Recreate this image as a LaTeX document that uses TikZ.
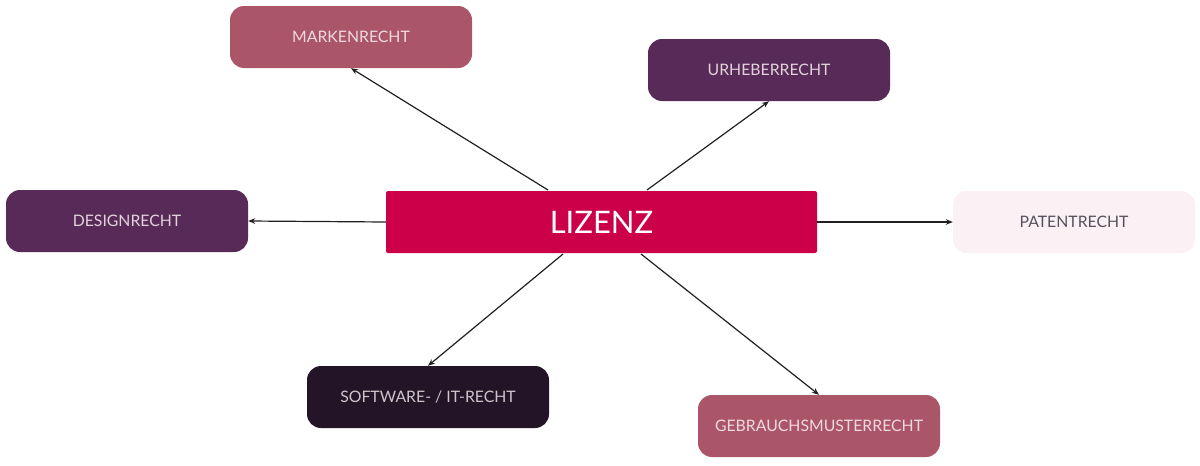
\documentclass[tikz,border=0pt]{standalone}
\usepackage{fontspec}
\setmainfont{Lato}
\usetikzlibrary{arrows.meta}
\definecolor{rose}{HTML}{AB5668}
\definecolor{plum}{HTML}{582A58}
\definecolor{lizred}{HTML}{CC0048}
\definecolor{palepink}{HTML}{FBF0F3}
\definecolor{darkplum}{HTML}{231527}
\definecolor{arrowc}{HTML}{231F20}
\tikzset{
  rbox/.style={rounded corners=14pt, minimum width=242pt, minimum height=62pt, inner sep=0pt, font=\fontsize{15.8pt}{18pt}\selectfont},
  conn/.style={draw=arrowc, line width=1.2pt, -{Stealth[length=7pt,width=5.5pt]}}
}
\begin{document}
\begin{tikzpicture}[x=1pt,y=-1pt]
\useasboundingbox[fill=white] (0,0) rectangle (1200,466);
\node[rbox, fill=rose, text=palepink!85!rose] (mark) at (351,37) {MARKENRECHT};
\node[rbox, fill=plum, text=palepink!85!plum] (urh) at (769,70) {URHEBERRECHT};
\node[rbox, fill=plum, text=palepink!85!plum] (des) at (127,221) {DESIGNRECHT};
\node[rbox, fill=palepink, text=darkplum!75] (pat) at (1074,222) {PATENTRECHT};
\node[rbox, fill=darkplum, text=palepink!80!darkplum] (soft) at (428,397) {SOFTWARE- / IT-RECHT};
\node[rbox, fill=rose, text=palepink!85!rose] (geb) at (819,426) {GEBRAUCHSMUSTERRECHT};
\node[fill=lizred, rounded corners=2pt, minimum width=431pt, minimum height=62pt, inner sep=0pt, text=white, font=\fontsize{31pt}{35pt}\selectfont] (liz) at (601.5,222) {LIZENZ};
\coordinate (a1) at (548,190);
\coordinate (a2) at (647,190);
\coordinate (a3) at (563,254);
\coordinate (a4) at (641,254);
\draw[conn] (a1) -- (mark.south);
\draw[conn] (a2) -- (urh.south);
\draw[conn] (liz.west) -- (des.east);
\draw[conn] (liz.east) -- (pat.west);
\draw[conn] (a3) -- (soft.north);
\draw[conn] (a4) -- (geb.north);
\end{tikzpicture}
\end{document}
